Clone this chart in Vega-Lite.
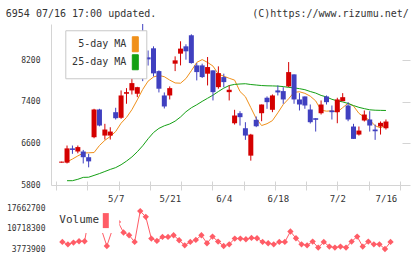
{
  "$schema": "https://vega.github.io/schema/vega-lite/v6.json",
  "padding": {"left": 5, "top": 8, "right": 5, "bottom": 5},
  "background": "white",
  "spacing": 1,
  "config": {
    "view": {"stroke": null},
    "axis": {"grid": false, "labelFont": "DejaVu Sans Mono", "labelColor": "#333333", "domainColor": "#d4d4d4", "tickColor": "#d4d4d4", "domainWidth": 1, "tickWidth": 1}
  },
  "resolve": {"scale": {"color": "independent"}, "legend": {"color": "independent"}},
  "datasets": {
    "d": [
      {"i":0,"open":6230,"high":6250,"low":6230,"close":6250,"ma5":null,"ma25":null,"volume":null},
      {"i":1,"open":6230,"high":6560,"low":6215,"close":6505,"ma5":6245,"ma25":5883,"volume":6160000},
      {"i":2,"open":6505,"high":6560,"low":6400,"close":6475,"ma5":6300,"ma25":5883,"volume":5370000},
      {"i":3,"open":6445,"high":6560,"low":6410,"close":6530,"ma5":6360,"ma25":5910,"volume":5950000},
      {"i":4,"open":6445,"high":6475,"low":6215,"close":6335,"ma5":6415,"ma25":5947,"volume":6390000},
      {"i":5,"open":6335,"high":6400,"low":6140,"close":6255,"ma5":6420,"ma25":5950,"volume":6390000},
      {"i":6,"open":6720,"high":7267,"low":6700,"close":7254,"ma5":6425,"ma25":5985,"volume":16900000},
      {"i":7,"open":7254,"high":7267,"low":6930,"close":6945,"ma5":6560,"ma25":6020,"volume":12500000},
      {"i":8,"open":6752,"high":6978,"low":6675,"close":6868,"ma5":6660,"ma25":6060,"volume":10500000},
      {"i":9,"open":6752,"high":6912,"low":6675,"close":6829,"ma5":6735,"ma25":6100,"volume":4790000},
      {"i":10,"open":7202,"high":7287,"low":7061,"close":7086,"ma5":6830,"ma25":6135,"volume":10400000},
      {"i":11,"open":7094,"high":7621,"low":7074,"close":7524,"ma5":6990,"ma25":6190,"volume":12960000},
      {"i":12,"open":7557,"high":7665,"low":7364,"close":7588,"ma5":7100,"ma25":6260,"volume":9360000},
      {"i":13,"open":7621,"high":7858,"low":7543,"close":7762,"ma5":7250,"ma25":6340,"volume":8440000},
      {"i":14,"open":7557,"high":7690,"low":7491,"close":7684,"ma5":7440,"ma25":6440,"volume":6160000},
      {"i":15,"open":8534,"high":8900,"low":7800,"close":7955,"ma5":7640,"ma25":6555,"volume":16610000},
      {"i":16,"open":8258,"high":8390,"low":8100,"close":8219,"ma5":7800,"ma25":6690,"volume":14670000},
      {"i":17,"open":8432,"high":8470,"low":7890,"close":7949,"ma5":7880,"ma25":6810,"volume":7310000},
      {"i":18,"open":7993,"high":8007,"low":7582,"close":7654,"ma5":7910,"ma25":6890,"volume":6500000},
      {"i":19,"open":7524,"high":7582,"low":7273,"close":7312,"ma5":7885,"ma25":6940,"volume":7860000},
      {"i":20,"open":7524,"high":7698,"low":7447,"close":7665,"ma5":7820,"ma25":6975,"volume":7860000},
      {"i":21,"open":8136,"high":8277,"low":7993,"close":8200,"ma5":7765,"ma25":7030,"volume":8440000},
      {"i":22,"open":8329,"high":8567,"low":8103,"close":8426,"ma5":7760,"ma25":7110,"volume":6740000},
      {"i":23,"open":8470,"high":8509,"low":8213,"close":8374,"ma5":7850,"ma25":7210,"volume":5030000},
      {"i":24,"open":8683,"high":8702,"low":8136,"close":8148,"ma5":8000,"ma25":7287,"volume":6160000},
      {"i":25,"open":8103,"high":8148,"low":7814,"close":7974,"ma5":8160,"ma25":7345,"volume":6840000},
      {"i":26,"open":8103,"high":8136,"low":7860,"close":7878,"ma5":8215,"ma25":7410,"volume":8440000},
      {"i":27,"open":7943,"high":8264,"low":7717,"close":8071,"ma5":8160,"ma25":7470,"volume":5710000},
      {"i":28,"open":8007,"high":8007,"low":7428,"close":7588,"ma5":8090,"ma25":7530,"volume":7990000},
      {"i":29,"open":7684,"high":8084,"low":7654,"close":7955,"ma5":7935,"ma25":7600,"volume":6290000},
      {"i":30,"open":7878,"high":7943,"low":7684,"close":7781,"ma5":7895,"ma25":7665,"volume":4790000},
      {"i":31,"open":7588,"high":7717,"low":7428,"close":7634,"ma5":7855,"ma25":7715,"volume":5370000},
      {"i":32,"open":6989,"high":7248,"low":6964,"close":7138,"ma5":7820,"ma25":7737,"volume":7310000},
      {"i":33,"open":7183,"high":7221,"low":6945,"close":7106,"ma5":7600,"ma25":7745,"volume":7310000},
      {"i":34,"open":6893,"high":7009,"low":6669,"close":6752,"ma5":7500,"ma25":7750,"volume":7080000},
      {"i":35,"open":6365,"high":6785,"low":6269,"close":6771,"ma5":7290,"ma25":7735,"volume":7520000},
      {"i":36,"open":7055,"high":7119,"low":6914,"close":6931,"ma5":7080,"ma25":7725,"volume":7420000},
      {"i":37,"open":7182,"high":7350,"low":7028,"close":7350,"ma5":6945,"ma25":7715,"volume":6160000},
      {"i":38,"open":7480,"high":7505,"low":7267,"close":7395,"ma5":6980,"ma25":7710,"volume":5710000},
      {"i":39,"open":7248,"high":7543,"low":7202,"close":7524,"ma5":7040,"ma25":7708,"volume":5370000},
      {"i":40,"open":7621,"high":7717,"low":7524,"close":7582,"ma5":7190,"ma25":7704,"volume":6160000},
      {"i":41,"open":7608,"high":7684,"low":7364,"close":7447,"ma5":7350,"ma25":7695,"volume":6160000},
      {"i":42,"open":7698,"high":8167,"low":7684,"close":7974,"ma5":7460,"ma25":7680,"volume":9700000},
      {"i":43,"open":7930,"high":7930,"low":7364,"close":7447,"ma5":7585,"ma25":7670,"volume":7420000},
      {"i":44,"open":7447,"high":7569,"low":7235,"close":7350,"ma5":7595,"ma25":7655,"volume":5370000},
      {"i":45,"open":7505,"high":7505,"low":7267,"close":7331,"ma5":7565,"ma25":7635,"volume":5030000},
      {"i":46,"open":7254,"high":7350,"low":6984,"close":7009,"ma5":7510,"ma25":7600,"volume":6290000},
      {"i":47,"open":7086,"high":7086,"low":6829,"close":7055,"ma5":7420,"ma25":7570,"volume":4250000},
      {"i":48,"open":7182,"high":7428,"low":7157,"close":7350,"ma5":7240,"ma25":7525,"volume":6160000},
      {"i":49,"open":7505,"high":7524,"low":7350,"close":7395,"ma5":7222,"ma25":7495,"volume":4590000},
      {"i":50,"open":7235,"high":7331,"low":7061,"close":7202,"ma5":7228,"ma25":7450,"volume":4250000},
      {"i":51,"open":7202,"high":7480,"low":6989,"close":7447,"ma5":7205,"ma25":7420,"volume":4590000},
      {"i":52,"open":7414,"high":7569,"low":7414,"close":7491,"ma5":7290,"ma25":7400,"volume":4250000},
      {"i":53,"open":7331,"high":7395,"low":7028,"close":7061,"ma5":7375,"ma25":7370,"volume":6290000},
      {"i":54,"open":6926,"high":6978,"low":6688,"close":6688,"ma5":7320,"ma25":7330,"volume":7990000},
      {"i":55,"open":6771,"high":6926,"low":6752,"close":6848,"ma5":7180,"ma25":7295,"volume":4590000},
      {"i":56,"open":7042,"high":7235,"low":7023,"close":7157,"ma5":7105,"ma25":7270,"volume":6290000},
      {"i":57,"open":7061,"high":7221,"low":6829,"close":6945,"ma5":7050,"ma25":7248,"volume":5370000},
      {"i":58,"open":6868,"high":6964,"low":6669,"close":6835,"ma5":6940,"ma25":7240,"volume":5370000},
      {"i":59,"open":6926,"high":7023,"low":6771,"close":6997,"ma5":6900,"ma25":7237,"volume":3773900},
      {"i":60,"open":6893,"high":7061,"low":6868,"close":7022,"ma5":6955,"ma25":7235,"volume":6160000}
    ]
  },
  "vconcat": [
    {
      "width": 354,
      "height": 161,
      "data": {"name": "d"},
      "resolve": {"axis": {"x": "independent", "y": "independent"}},
      "layer": [
        {
          "transform": [
            {"fold": ["ma5", "ma25"], "as": ["series", "value"]},
            {"filter": "datum.value != null"}
          ],
          "mark": {"type": "line", "strokeWidth": 1},
          "encoding": {
            "x": {"field": "i", "type": "quantitative", "scale": {"domain": [-1.04, 62.6], "nice": false, "zero": false},
              "axis": {"orient": "top", "labels": false, "ticks": false, "domain": false,
                "title": "(C)https://www.rizumu.net/", "titleX": 357.3, "titleY": -7.5, "titleAlign": "right", "titleBaseline": "alphabetic",
                "titleFont": "DejaVu Sans Mono", "titleFontSize": 10, "titleFontWeight": "normal", "titleColor": "#333333"}},
            "y": {"field": "value", "type": "quantitative", "scale": {"domain": [5800, 8900], "nice": false, "zero": false}, "axis": null},
            "color": {
              "field": "series", "type": "nominal",
              "scale": {"domain": ["ma5", "ma25"], "range": ["#f0901a", "#14a014"]},
              "legend": {
                "orient": "none", "legendX": 14.3, "legendY": 6.25,
                "title": null,
                "fillColor": "white", "strokeColor": "#c8c8c8", "padding": 6,
                "symbolType": "M-0.4,-1H0.4V1H-0.4Z", "symbolSize": 225, "symbolStrokeWidth": 1,
                "symbolOffset": 56, "labelAlign": "right", "labelOffset": -17,
                "labelFont": "DejaVu Sans Mono", "labelFontSize": 10, "labelColor": "#333333",
                "rowPadding": -2,
                "labelExpr": "datum.value == 'ma5' ? '5-day MA' : '25-day MA'",
                "encode": {
                  "symbols": {"update": {
                    "fill": [{"test": "datum.value == 'ma5'", "value": "#f0901a"}, {"value": "#14a014"}],
                    "stroke": {"value": "#444444"}, "strokeWidth": {"value": 1}, "opacity": {"value": 1}
                  }},
                  "labels": {"update": {"align": {"value": "right"}}}
                }
              }
            }
          }
        },
        {
          "mark": {"type": "rule", "strokeWidth": 1},
          "encoding": {
            "x": {"field": "i", "type": "quantitative", "scale": {"domain": [-1.04, 62.6], "nice": false, "zero": false},
              "axis": {"values": [10, 20, 30, 40, 51, 60],
                "labelExpr": "datum.value == 10 ? '5/7' : datum.value == 20 ? '5/21' : datum.value == 30 ? '6/4' : datum.value == 40 ? '6/18' : datum.value == 51 ? '7/2' : '7/16'",
                "ticks": false, "domain": true, "labelPadding": 9, "labelFontSize": 9, "labelFlush": false, "labelOverlap": false, "title": null}},
            "y": {"field": "low", "type": "quantitative", "scale": {"domain": [5800, 8900], "nice": false, "zero": false},
              "axis": {"values": [5800, 6600, 7400, 8200], "format": "d", "ticks": false, "domain": true, "labelPadding": 11, "labelFontSize": 8, "labelFlush": false,
                "title": "6954 07/16 17:00 updated.", "titleAngle": 0, "titleX": -45.7, "titleY": -7.5, "titleAlign": "left", "titleBaseline": "alphabetic",
                "titleFont": "DejaVu Sans Mono", "titleFontSize": 10, "titleFontWeight": "normal", "titleColor": "#333333"}},
            "y2": {"field": "high"},
            "color": {"condition": {"test": "datum.close > datum.open", "value": "#d40000"}, "value": "#4040c0"}
          }
        },
        {
          "mark": {"type": "bar", "width": 5},
          "encoding": {
            "x": {"field": "i", "type": "quantitative", "scale": {"domain": [-1.04, 62.6], "nice": false, "zero": false},
              "axis": {"values": [-1.04, 4.746, 10.531, 16.317, 22.102, 27.888, 33.673, 39.459, 45.244, 51.03, 56.815, 62.6],
                "offset": -4, "tickSize": 9, "labels": false, "domain": false, "title": null}},
            "y": {"field": "open", "type": "quantitative", "scale": {"domain": [5800, 8900], "nice": false, "zero": false},
              "axis": {"values": [5800, 6600, 7400, 8200], "offset": -3, "tickSize": 8, "labels": false, "domain": false, "title": null}},
            "y2": {"field": "close"},
            "color": {"condition": {"test": "datum.close > datum.open", "value": "#d40000"}, "value": "#4040c0"}
          }
        }
      ]
    },
    {
      "width": 354,
      "height": 41,
      "data": {"name": "d"},
      "transform": [{"filter": "datum.volume != null"}],
      "encoding": {
        "x": {"field": "i", "type": "quantitative", "scale": {"domain": [-1.04, 62.6], "nice": false, "zero": false}, "axis": null},
        "y": {"field": "volume", "type": "quantitative", "scale": {"domain": [3773900, 17662700], "nice": false, "zero": false},
          "axis": {"values": [3773900, 10718300, 17662700], "format": "d", "ticks": false, "domain": false, "labelPadding": 6, "labelFontSize": 8, "labelFlush": false, "title": null}}
      },
      "layer": [
        {
          "mark": {"type": "line", "color": "#ff5c66", "strokeWidth": 1}
        },
        {
          "mark": {"type": "point", "shape": "diamond", "filled": true, "size": 40, "opacity": 1},
          "encoding": {
            "color": {
              "datum": "Volume", "type": "nominal",
              "scale": {"range": ["#ff5c66"]},
              "legend": {
                "orient": "none", "legendX": 3.3, "legendY": -0.9,
                "title": "Volume", "titleOrient": "left", "titleFont": "DejaVu Sans Mono", "titleFontSize": 11, "titleFontWeight": "normal",
                "titleColor": "#333333", "titlePadding": 1, "titleAnchor": "middle", "titleBaseline": "middle",
                "labelExpr": "''", "labelOffset": 0,
                "fillColor": "white", "padding": 5,
                "symbolType": "M-0.4,-1H0.4V1H-0.4Z", "symbolSize": 225, "symbolOffset": -3,
                "encode": {"symbols": {"update": {
                  "fill": {"value": "#ff5c66"}, "stroke": {"value": "#444444"}, "strokeWidth": {"value": 1}, "opacity": {"value": 1}
                }}}
              }
            }
          }
        }
      ]
    }
  ]
}
